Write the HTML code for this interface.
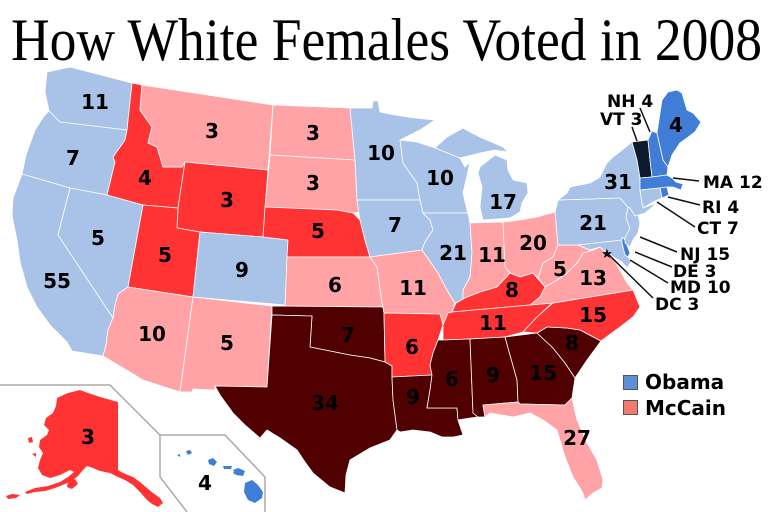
<!DOCTYPE html>
<html><head><meta charset="utf-8"><style>
html,body{margin:0;padding:0;background:#fff;}
svg{display:block;}
.s{stroke:#fff;stroke-width:0.8;stroke-linejoin:round;}
.lb{fill:#a8c2e8}.mb{fill:#3f7dd6}.nv{fill:#0e1a2e}.pk{fill:#ffa3a6}.rd{fill:#ff3333}.mr{fill:#500000}
.n{font-family:"DejaVu Sans","Liberation Sans",sans-serif;font-weight:bold;font-size:20px;text-anchor:middle;fill:#000}
.c{font-family:"DejaVu Sans","Liberation Sans",sans-serif;font-weight:bold;font-size:17px;fill:#000}
.ld{stroke:#111;stroke-width:1.5;fill:none}
</style></head><body>
<svg width="773" height="512" viewBox="0 0 773 512" xmlns="http://www.w3.org/2000/svg">
<rect width="773" height="512" fill="#fff"/>
<text x="11" y="60" font-family="Liberation Serif, serif" font-size="60" textLength="751" lengthAdjust="spacingAndGlyphs" fill="#000">How White Females Voted in 2008</text>
<g class="s">
<polygon class="lb" points="47,72 70,67 132,83 127,130 100,127 60,122 49,111 45,92"/>
<polygon class="lb" points="49,111 60,122 127,130 125,140 113,157 115,162 107,195 70,188 22,174 26,155 35,130 44,116"/>
<polygon class="lb" points="22,174 70,188 58,235 113,318 108,330 106,345 103,356 72,351 67,342 50,325 37,307 27,287 20,262 17,240 12,216 13,198 18,185"/>
<polygon class="lb" points="70,188 107,195 143,205 128,287 118,294 115,305 113,318 58,235"/>
<polygon class="rd" points="132,83 142,85 140,110 152,127 148,143 157,147 163,167 182,167 185,162 178,208 143,205 107,195 115,162 113,157 125,140 127,130"/>
<polygon class="pk" points="142,85 273,105 268,170 185,162 182,167 163,167 157,147 148,143 152,127 140,110"/>
<polygon class="rd" points="185,162 268,170 263,237 200,232 177,228 178,208"/>
<polygon class="rd" points="143,205 178,208 177,228 200,232 193,297 128,287"/>
<polygon class="lb" points="200,232 263,237 288,240 285,305 193,297"/>
<polygon class="pk" points="128,287 193,297 180,392 143,380 103,356 106,345 108,330 113,318 115,305 118,294"/>
<polygon class="pk" points="193,297 272,306 267,387 215,386 215,390 193,389 192,392 180,392"/>
<polygon class="pk" points="273,105 350,108 355,160 270,155"/>
<polygon class="pk" points="270,155 355,160 357,200 360,212 353,213 337,210 265,207"/>
<polygon class="rd" points="265,207 337,210 353,213 360,220 365,240 370,257 287,257 288,240 263,237"/>
<polygon class="pk" points="287,257 370,257 377,267 382,303 383,307 285,306"/>
<polygon class="mr" points="272,306 383,307 384,313 385,362 370,358 350,355 330,351 310,347 312,316 272,315"/>
<polygon class="mr" points="272,315 312,316 310,347 330,351 350,355 370,358 385,362 392,366 392,377 393,400 397,430 390,440 370,448 350,460 346,475 345,493 330,487 313,473 305,462 297,450 280,438 267,430 260,438 245,425 233,413 220,395 215,386 267,387"/>
<polygon class="lb" points="350,108 372,108 373,101 378,101 380,112 395,115 415,118 435,120 420,130 400,140 403,163 417,183 420,200 357,200 355,160"/>
<polygon class="lb" points="357,200 420,200 423,213 430,220 433,230 425,242 422,250 370,257 365,240 360,220"/>
<polygon class="pk" points="370,257 422,250 427,257 438,273 447,290 455,303 452,312 448,313 443,325 440,314 384,313 383,307 382,303 377,267"/>
<polygon class="rd" points="384,313 440,314 443,325 438,340 433,353 430,365 432,375 392,377 392,366 385,362"/>
<polygon class="mr" points="392,377 432,375 430,390 427,408 457,408 458,420 463,435 453,437 442,437 430,432 413,430 400,432 397,430 393,400"/>
<polygon class="lb" points="400,140 417,142 435,148 460,158 465,167 470,162 466,180 463,193 467,210 468,213 423,213 420,200 417,183 403,163"/>
<polygon class="lb" points="435,148 447,137 463,128 472,133 480,137 503,147 508,152 495,150 480,153 460,158"/>
<polygon class="lb" points="480,167 495,155 507,160 508,170 513,180 527,183 528,193 522,203 520,212 510,218 483,220 480,207 482,187 478,173"/>
<polygon class="lb" points="423,213 468,213 470,223 472,253 470,277 463,290 463,300 455,303 447,290 438,273 427,257 422,250 425,242 433,230 430,220"/>
<polygon class="pk" points="470,223 503,222 505,267 510,273 497,287 480,292 465,298 463,300 463,290 470,277 472,253"/>
<polygon class="pk" points="503,222 520,220 537,217 555,212 558,245 553,257 543,263 538,278 533,273 520,277 510,273 505,267"/>
<polygon class="rd" points="452,312 456,303 465,298 480,292 497,287 510,273 520,277 533,273 545,287 540,297 530,305"/>
<polygon class="rd" points="448,313 452,312 530,305 552,303 537,317 523,332 505,337 470,339 443,340 443,325"/>
<polygon class="mr" points="443,340 470,339 473,413 478,417 470,418 458,420 457,408 427,408 430,390 432,375 430,365 433,353 438,340"/>
<polygon class="mr" points="470,339 505,337 517,380 518,402 483,405 485,417 478,417 473,413"/>
<polygon class="mr" points="505,337 537,333 553,348 565,363 575,378 572,398 565,405 520,404 518,402 517,380"/>
<polygon class="pk" points="483,405 518,402 520,404 565,405 572,398 577,420 587,443 597,460 603,480 602,488 593,493 585,500 583,493 573,477 565,457 560,440 557,430 543,420 530,413 513,417 490,413 485,417"/>
<polygon class="mr" points="537,333 547,327 567,328 580,330 601,341 587,360 575,378 565,363 553,348"/>
<polygon class="rd" points="523,332 537,317 553,303 633,290 640,307 633,317 620,327 601,341 580,330 567,328 547,327 537,333"/>
<polygon class="pk" points="530,305 540,297 545,287 557,280 567,273 577,263 583,253 593,250 600,247 607,253 613,258 620,270 627,283 633,290 553,303"/>
<polygon class="pk" points="545,287 538,278 543,263 553,257 558,245 578,245 590,250 600,247 593,250 583,253 577,263 567,273 557,280"/>
<polygon class="lb" points="555,212 558,200 620,198 628,207 626,218 630,228 625,238 622,240 578,245 558,245"/>
<polygon class="lb" points="578,245 622,240 622,243 625,255 628,257 631,262 627,268 622,262 615,258 610,255 607,253 600,247 590,250"/>
<polygon class="mb" points="622,237 625,240 630,253 628,257 625,255 622,243"/>
<polygon class="lb" points="628,207 637,211 640,223 638,233 633,240 630,247 625,243 625,238 630,228 626,218"/>
<polygon class="lb" points="558,200 567,193 570,187 590,183 600,177 607,163 613,157 622,150 632,142 637,160 640,178 640,190 642,203 643,208 648,206 657,203 645,213 635,216 630,208 628,207 620,198"/>
<polygon class="nv" points="632,142 648,140 650,160 652,177 640,178 637,160"/>
<polygon class="mb" points="648,140 652,131 657,133 663,160 668,167 667,175 652,177 650,160"/>
<polygon class="mb" points="657,133 662,100 668,92 677,90 682,93 687,110 693,113 701,122 695,132 687,138 680,143 672,155 668,167 663,160"/>
<polygon class="mb" points="640,178 652,177 667,175 672,178 676,182 683,184 681,190 673,187 667,187 660,188 640,190"/>
<polygon class="mb" points="660,188 667,187 669,195 662,198"/>
<polygon class="lb" points="640,190 660,188 662,198 653,202 643,208 642,203"/>
</g>
<text x="607" y="258" font-family="DejaVu Sans, sans-serif" font-size="13" text-anchor="middle" fill="#000">★</text>
<polyline points="0,385 110,385 160,435" fill="none" stroke="#aaa" stroke-width="1.5"/>
<polyline points="187,512 160,477 160,435 225,435 265,477 265,512" fill="none" stroke="#aaa" stroke-width="1.5"/>
<g fill="#ff3333">
<polygon points="57,398 68,393 80,390 88,393 100,397 118,402 118,470 123,473 133,477 140,482 147,488 153,493 160,498 163,503 158,507 152,504 147,500 140,492 133,485 125,480 118,477 110,473 100,471 93,468 87,466 83,470 78,476 73,480 65,484 55,488 45,491 35,492 27,494 25,492 35,488 48,486 60,482 68,477 74,472 70,470 60,475 50,478 42,475 38,468 40,460 43,453 39,447 40,440 47,435 49,430 44,425 46,418 53,413 56,406"/>
<polygon points="68,481 75,479 78,484 72,489 67,487"/>
<polygon points="28,438 32,437 33,442 29,443"/>
<polygon points="32,454 36,453 36,457"/>
<polygon points="6,496 12,494 20,495 16,498 8,499"/>
</g>
<g fill="#3f7dd6">
<polygon points="245,483 252,480 258,485 263,492 262,498 255,503 248,500 244,492"/>
<polygon points="233,470 238,468 245,471 243,476 236,475"/>
<polygon points="223,466 232,466 231,469 224,469"/>
<polygon points="208,460 213,458 217,462 214,466 209,464"/>
<polygon points="186,451 190,450 192,453 188,455"/>
<polygon points="177,455 180,454 180,457"/>
<polygon points="233,472 236,472 235,475"/>
</g>
<g class="n">
<text x="95" y="109">11</text>
<text x="73" y="165">7</text>
<text x="57" y="288">55</text>
<text x="98" y="245">5</text>
<text x="145" y="185">4</text>
<text x="212" y="138">3</text>
<text x="227" y="207">3</text>
<text x="165" y="262">5</text>
<text x="242" y="277">9</text>
<text x="152" y="341">10</text>
<text x="227" y="350">5</text>
<text x="313" y="140">3</text>
<text x="313" y="190">3</text>
<text x="318" y="238">5</text>
<text x="335" y="292">6</text>
<text x="348" y="342">7</text>
<text x="325" y="410">34</text>
<text x="381" y="160">10</text>
<text x="395" y="232">7</text>
<text x="413" y="295">11</text>
<text x="412" y="354">6</text>
<text x="413" y="404">9</text>
<text x="440" y="185">10</text>
<text x="453" y="260">21</text>
<text x="452" y="386">6</text>
<text x="503" y="209">17</text>
<text x="492" y="262">11</text>
<text x="512" y="297">8</text>
<text x="493" y="330">11</text>
<text x="493" y="382">9</text>
<text x="533" y="250">20</text>
<text x="543" y="380">15</text>
<text x="572" y="350">8</text>
<text x="593" y="322">15</text>
<text x="577" y="445">27</text>
<text x="560" y="276">5</text>
<text x="593" y="285">13</text>
<text x="593" y="230">21</text>
<text x="618" y="189">31</text>
<text x="676" y="132">4</text>
<text x="88" y="444">3</text>
<text x="205" y="490">4</text>
</g>
<g class="ld">
<line x1="640" y1="108" x2="650" y2="132"/>
<line x1="632" y1="127" x2="637" y2="141"/>
<line x1="673" y1="178" x2="699" y2="181"/>
<line x1="668" y1="197" x2="700" y2="205"/>
<line x1="657" y1="202" x2="695" y2="227"/>
<line x1="640" y1="237" x2="677" y2="252"/>
<line x1="635" y1="252" x2="672" y2="267"/>
<line x1="630" y1="260" x2="668" y2="283"/>
<line x1="607" y1="253" x2="653" y2="298"/>
</g>
<g class="c">
<text x="607" y="107">NH 4</text>
<text x="600" y="125">VT 3</text>
<text x="703" y="188">MA 12</text>
<text x="702" y="213">RI 4</text>
<text x="697" y="234">CT 7</text>
<text x="680" y="260">NJ 15</text>
<text x="673" y="277">DE 3</text>
<text x="670" y="293">MD 10</text>
<text x="655" y="310">DC 3</text>
</g>
<rect x="623.5" y="375.5" width="14" height="14" fill="#5b8fd6" stroke="#555" stroke-width="1"/>
<rect x="623.5" y="400.5" width="14" height="14" fill="#f47a70" stroke="#555" stroke-width="1"/>
<text x="645" y="389" font-family="DejaVu Sans, sans-serif" font-weight="bold" font-size="20" fill="#000">Obama</text>
<text x="645" y="415" font-family="DejaVu Sans, sans-serif" font-weight="bold" font-size="20" fill="#000">McCain</text>
</svg>
</body></html>
